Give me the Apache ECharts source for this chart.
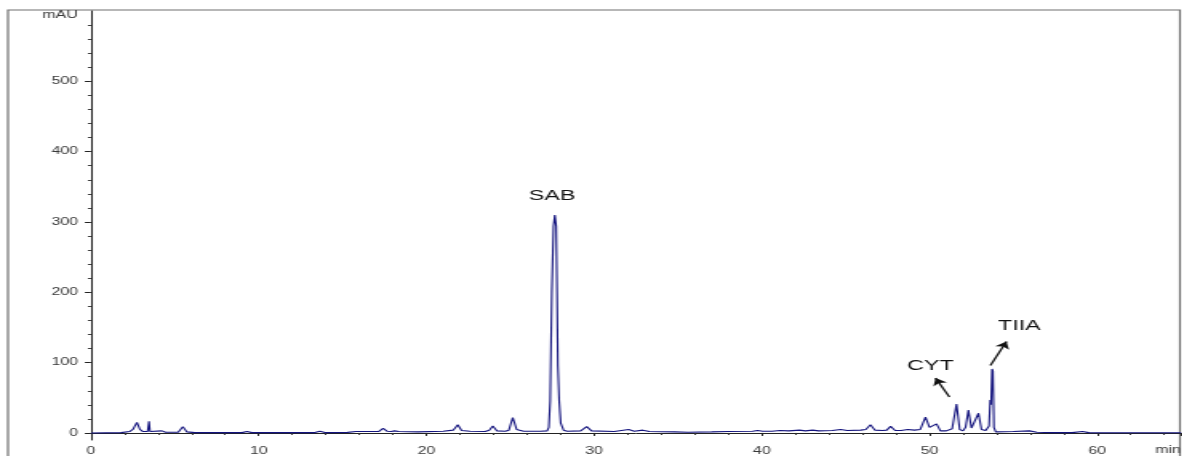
<!DOCTYPE html>
<html>
<head>
<meta charset="utf-8">
<script src="https://cdn.jsdelivr.net/npm/echarts@6/dist/echarts.min.js"></script>
<style>
    html, body { margin: 0; padding: 0; background: #fff; overflow: hidden; }
    /* the original picture is stretched sideways, so the chart is drawn narrow and widened */
    #chart { width: 739.375px; height: 456px; transform: scaleX(1.6); transform-origin: 0 0; }
</style>
</head>
<body>
<div id="chart"></div>
<script>
// retention time (min)
var times = [0, 1.8, 2.3, 2.5, 2.74, 2.92, 3.1, 3.38, 3.46, 3.52, 3.7, 4.23, 4.45, 5.2, 5.48, 5.72, 6.2,
    9.0, 9.3, 9.6, 13.35, 13.65, 13.95, 15.3, 15.8, 17.15, 17.42, 17.65, 17.9, 18.1, 18.35, 19.5,
    21.0, 21.6, 21.87, 22.1, 22.6, 23.5, 23.75, 23.96, 24.2, 24.7, 24.92, 25.15, 25.38, 25.8, 26.8,
    27.2, 27.3, 27.38, 27.48, 27.58, 27.66, 27.74, 27.79, 27.84, 27.92, 28.01, 28.18, 28.4,
    29.2, 29.56, 29.85, 31.2, 32.06, 32.4, 32.9, 33.3, 34.8, 35.6, 37.0, 38.0, 39.45, 39.75, 40.05,
    40.6, 41.1, 41.6, 42.25, 42.6, 43.03, 43.4, 44.2, 44.7, 45.1, 45.9, 46.2, 46.48, 46.75, 47.2,
    47.45, 47.68, 47.95, 48.3, 48.7, 49.1, 49.45, 49.76, 50.0, 50.15, 50.42, 50.65, 51.0, 51.35,
    51.61, 51.8, 52.0, 52.15, 52.32, 52.5, 52.65, 52.92, 53.1, 53.35, 53.55, 53.62, 53.67, 53.73,
    53.78, 53.84, 53.95, 55.0, 55.96, 56.4, 57.33, 58.5, 59.12, 59.5, 60.5, 65];
// absorbance (mAU)
var signal = [0, 0.5, 2, 5, 15, 5, 2, 2, 16.5, 2, 1.5, 3, 1, 1, 9, 1.5, 0.5,
    0.5, 2, 0.5, 0.5, 2.5, 0.5, 0.8, 2, 2, 6.6, 2.5, 2, 3, 2, 1.5,
    2.5, 4, 11.7, 3.5, 2.5, 2, 4, 10, 3, 2.4, 4, 22, 5, 2.5, 2.5,
    3, 8, 45, 200, 294, 310, 294, 200, 96, 45, 14, 4, 2.5,
    3, 9, 3, 2, 5, 2.5, 4, 2, 1.5, 1, 1.5, 2, 2.5, 3.5, 2.5,
    2.5, 3.5, 3, 4, 3, 4, 3, 3.5, 5, 3.5, 4, 5, 11.7, 4, 3.5,
    4, 9.4, 3.5, 3.5, 5, 4, 5, 22.6, 8, 7, 13, 3, 3, 6,
    41, 5, 3, 8, 32.5, 7, 7, 28, 5, 3.5, 10, 47, 40, 91,
    88, 8, 1.5, 2, 3, 1, 0.5, 0.5, 2, 0.5, 0.3, 0.3];

var yLabels = [0, 100, 200, 300, 400, 500];
var yMinor = [20, 40, 60, 80, 120, 140, 160, 180, 220, 240, 260, 280, 320, 340, 360, 380,
    420, 440, 460, 480, 520, 540, 560, 580];

// peak names and arrows (time, mAU)
var peakNames = [
    { name: 'SAB', coord: [27.5, 337] },
    { name: 'CYT', coord: [50.06, 95] },
    { name: 'TIIA', coord: [55.36, 152] }
];
var arrows = [
    [[51.19, 51], [50.36, 78]],
    [[53.63, 96], [54.59, 130]]
];

var S = 1.6;               // sideways stretch
var W = 1183 / S;
var font = 'Liberation Sans';

var chart = echarts.init(document.getElementById('chart'));
var option = {
    animation: false,
    backgroundColor: '#fff',
    grid: {
        left: 91 / S,
        right: W - 1181.7 / S,
        top: 11,
        bottom: 14
    },
    xAxis: {
        type: 'value',
        min: 0,
        max: 65,
        interval: 10,
        axisLine: { lineStyle: { color: '#222', width: 1 } },
        axisTick: { length: 3, lineStyle: { color: '#222' } },
        minorTick: { show: true, splitNumber: 5, length: 2, lineStyle: { color: '#333' } },
        splitLine: { show: false },
        axisLabel: {
            margin: 6,
            fontSize: 10,
            fontFamily: font,
            color: '#3a3a3a',
            showMaxLabel: false
        }
    },
    yAxis: [{
        type: 'value',
        min: -10,
        max: 600,
        axisLine: { show: true, lineStyle: { color: '#222', width: 1 } },
        axisTick: { show: true, customValues: yLabels, length: 3.8, lineStyle: { color: '#222' } },
        axisLabel: {
            customValues: yLabels,
            margin: 8,
            fontSize: 10,
            fontFamily: font,
            color: '#3a3a3a'
        },
        splitLine: { show: false }
    }, {
        type: 'value',
        position: 'left',
        min: -10,
        max: 600,
        axisLine: { show: false },
        axisTick: { show: true, customValues: yMinor, length: 1.9, lineStyle: { color: '#333' } },
        axisLabel: { show: false },
        splitLine: { show: false }
    }],
    graphic: [{
        type: 'rect',
        shape: { x: 8 / S, y: 10, width: (1180 - 8) / S, height: 470 },
        style: { fill: 'none', stroke: '#707070', lineWidth: 1.2 },
        silent: true
    }, {
        type: 'text',
        x: 78 / S,
        y: 15,
        style: { text: 'mAU', fontSize: 10, fontFamily: font, fill: '#3a3a3a', align: 'right', verticalAlign: 'middle' },
        silent: true
    }, {
        type: 'text',
        x: 1155 / S,
        y: 450,
        style: { text: 'min', fontSize: 10, fontFamily: font, fill: '#3a3a3a', align: 'left', verticalAlign: 'middle' },
        silent: true
    }],
    series: [{
        type: 'line',
        data: times.map(function(t, i) { return [t, signal[i]]; }),
        showSymbol: false,
        sampling: 'none',
        lineStyle: { color: '#14147e', width: 1.1 },
        markPoint: {
            symbol: 'circle',
            symbolSize: 1,
            itemStyle: { color: 'rgba(0,0,0,0)' },
            label: {
                show: true,
                position: 'inside',
                formatter: '{b}',
                fontSize: 14.5,
                fontFamily: font,
                color: '#111'
            },
            data: peakNames
        },
        markLine: {
            silent: true,
            symbol: ['none', 'arrow'],
            symbolSize: 7,
            label: { show: false },
            lineStyle: { color: '#111', width: 1.3, type: 'solid' },
            data: arrows.map(function(a) {
                return [{ coord: a[0] }, { coord: a[1] }];
            })
        }
    }]
};
chart.setOption(option);
</script>
</body>
</html>
